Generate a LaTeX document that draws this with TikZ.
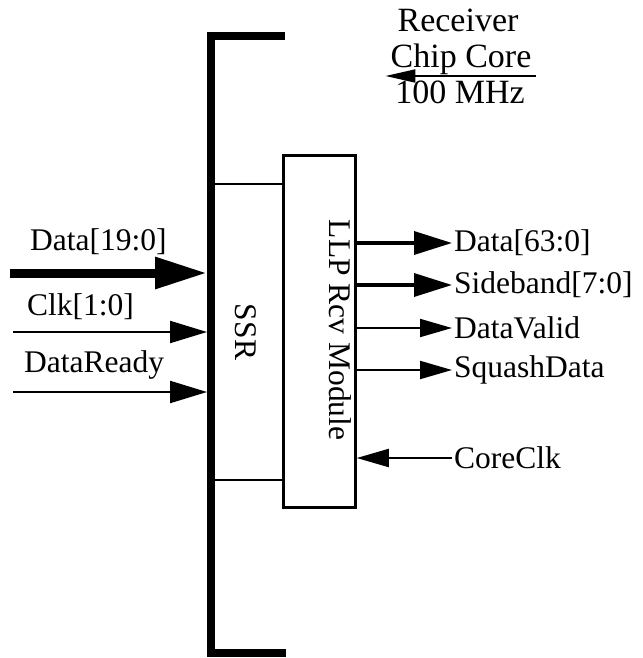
\documentclass[tikz,border=0pt]{standalone}
\usepackage{fontspec}
\setmainfont{Liberation Serif}
\usetikzlibrary{arrows.meta,positioning}

\begin{document}
\begin{tikzpicture}[x=1pt, y=-1pt,
    sig/.style={
        font=\fontsize{31.5}{36}\selectfont,
        inner sep=2pt
    },
    head/.style={
        font=\fontsize{34}{40}\selectfont,
        inner sep=2pt, anchor=base
    },
    bus/.style={line width=9pt, -{Triangle[length=52pt,width=30pt]}},
    wide/.style={line width=3.5pt, -{Triangle[length=38pt,width=23pt]}},
    wire/.style={line width=2.2pt, -{Triangle[length=37pt,width=22pt]}},
    lowire/.style={line width=2pt, -{Triangle[length=32pt,width=18pt]}}
]
\useasboundingbox (0,0) rectangle (642,658);

% Chip core boundary
\draw[line width=8pt] (285,36) -- (211,36) -- (211,653) -- (286,653);
\coordinate (rail) at (207,0);

% LLP receive module
\node[draw, line width=2.5pt, minimum width=72pt, minimum height=352pt] (llp) at (319.5,331.5) {};
\node[sig, rotate=-90] (llpname) at (340,330) {LLP Rcv Module};

% SSR region
\coordinate (ssrtop) at (211,184);
\coordinate (ssrbot) at (211,480);
\draw[line width=2pt] (ssrtop) -- (ssrtop -| llp.west);
\draw[line width=2pt] (ssrbot) -- (ssrbot -| llp.west);
\node[sig, rotate=-90] (ssr) at (246,332) {SSR};

% Title
\node[head] (rcv) at (458,32) {Receiver};
\node[head] (core) at (461,68) {Chip Core};
\node[head] (mhz) at (460,103) {100 MHz};
\coordinate (ulr) at ([xshift=2pt,yshift=-8pt]core.base east);
\coordinate (ull) at ([xshift=-3pt]core.base west);
\draw[line width=2pt, -{Triangle[length=30pt,width=13pt]}] (ulr) -- (ulr -| ull);

% Inputs on the left
\node[sig, anchor=west] (d19) at (28,242) {Data[19:0]};
\node[sig, anchor=west] (clk) at (25,307) {Clk[1:0]};
\node[sig, anchor=west] (drdy) at (22,365) {DataReady};
\coordinate (d19in) at (10,273);
\coordinate (clkin) at (13,332);
\coordinate (drdyin) at (13,392);
\draw[bus] (d19in) -- (d19in -| rail);
\draw[wire] (clkin) -- (clkin -| rail);
\draw[wire] (drdyin) -- (drdyin -| rail);

% Outputs on the right
\node[sig, anchor=west] (d63) at (452,243) {Data[63:0]};
\node[sig, anchor=west] (side) at (452,285) {Sideband[7:0]};
\node[sig, anchor=west] (valid) at (452,328) {DataValid};
\node[sig, anchor=west] (squash) at (452,370) {SquashData};
\node[sig, anchor=west] (cclk) at (452,458) {CoreClk};
\draw[wide] (llp.east |- d63) -- (d63.west);
\draw[wide] (llp.east |- side) -- (side.west);
\draw[lowire] (llp.east |- valid) -- (valid.west);
\draw[lowire] (llp.east |- squash) -- (squash.west);
\draw[lowire] (cclk.west) -- (llp.east |- cclk);

\end{tikzpicture}
\end{document}
